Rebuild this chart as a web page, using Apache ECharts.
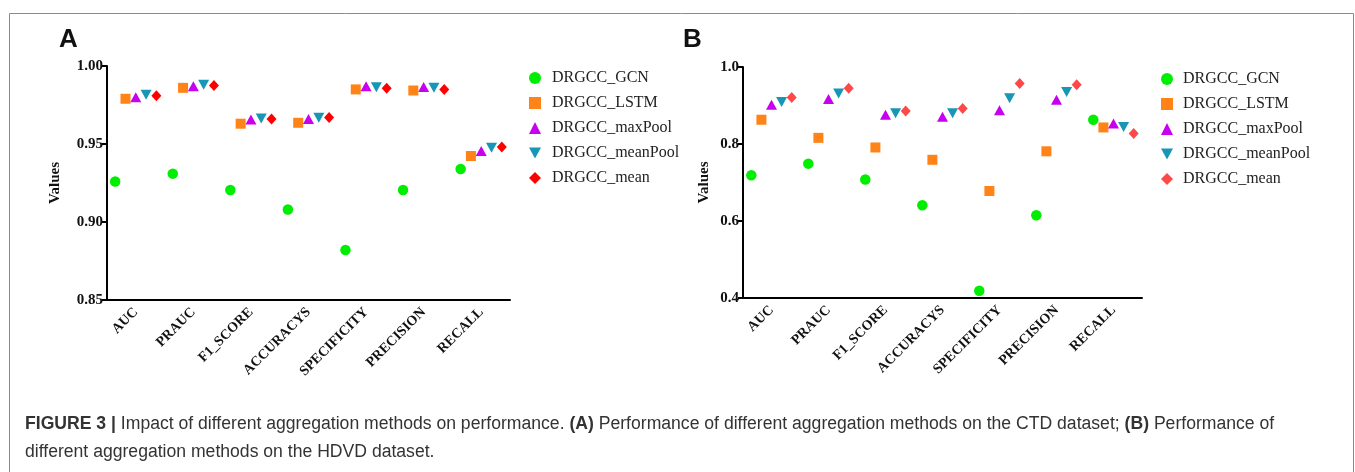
<!DOCTYPE html>
<html>
<head>
<meta charset="utf-8">
<script src="https://cdn.jsdelivr.net/npm/echarts@6/dist/echarts.min.js"></script>
<style>
html,body{margin:0;padding:0;background:#fff;}
#chart{width:1355px;height:472px;}
</style>
</head>
<body>
<div id="chart"></div>
<script>
const categories = ['AUC', 'PRAUC', 'F1_SCORE', 'ACCURACYS', 'SPECIFICITY', 'PRECISION', 'RECALL'];
const methods = ['DRGCC_GCN', 'DRGCC_LSTM', 'DRGCC_maxPool', 'DRGCC_meanPool', 'DRGCC_mean'];

// Panel A: CTD dataset
const ctdGCN      = [0.926, 0.931, 0.9205, 0.908, 0.882, 0.9205, 0.934];
const ctdLSTM     = [0.979, 0.986, 0.963, 0.9636, 0.985, 0.9843, 0.9423];
const ctdMaxPool  = [0.980, 0.987, 0.9657, 0.966, 0.987, 0.9866, 0.9455];
const ctdMeanPool = [0.9815, 0.988, 0.9664, 0.9668, 0.9864, 0.986, 0.9476];
const ctdMean     = [0.981, 0.9875, 0.966, 0.967, 0.9857, 0.985, 0.948];

// Panel B: HDVD dataset
const hdvdGCN      = [0.719, 0.749, 0.708, 0.641, 0.419, 0.615, 0.863];
const hdvdLSTM     = [0.863, 0.816, 0.791, 0.759, 0.678, 0.781, 0.843];
const hdvdMaxPool  = [0.902, 0.917, 0.876, 0.871, 0.8875, 0.915, 0.853];
const hdvdMeanPool = [0.909, 0.931, 0.880, 0.880, 0.919, 0.935, 0.844];
const hdvdMean     = [0.921, 0.945, 0.886, 0.892, 0.957, 0.954, 0.827];

const yTicksA = [0.85, 0.90, 0.95, 1.00];
const yTicksB = [0.4, 0.6, 0.8, 1.0];

const captionBold = 'FIGURE 3 |';
const captionLine1 = ' Impact of different aggregation methods on performance. ';
const captionA = '(A)';
const captionMid = ' Performance of different aggregation methods on the CTD dataset; ';
const captionB = '(B)';
const captionEnd = ' Performance of';
const captionLine2 = 'different aggregation methods on the HDVD dataset.';

const ctdData = [ctdGCN, ctdLSTM, ctdMaxPool, ctdMeanPool, ctdMean];
const hdvdData = [hdvdGCN, hdvdLSTM, hdvdMaxPool, hdvdMeanPool, hdvdMean];

const symbols = ['circle', 'rect', 'triangle', 'path://M0,0 L10,0 L5,9 Z', 'diamond'];
const symbolSizes = [10.5, 10, [11, 10], [11, 10], [10, 11]];
const colorsA = ['#00ee00', '#ff8316', '#c800f0', '#1796b5', '#ff0000'];
const colorsB = ['#00ee00', '#ff8316', '#c800f0', '#1796b5', '#ff4848'];
const serif = '"Liberation Serif","Times New Roman",serif';
const sans = '"Liberation Sans",Arial,sans-serif';

function xAxisCfg(gi) {
  return {
    type: 'category', gridIndex: gi, data: categories, boundaryGap: true,
    axisLine: { lineStyle: { color: '#000', width: 2 } },
    axisTick: { alignWithLabel: true, length: 5, lineStyle: { color: '#000', width: 2 } },
    axisLabel: { rotate: 45, margin: 10, fontFamily: serif, fontWeight: 'bold', fontSize: 14, color: '#111' },
    splitLine: { show: false }
  };
}
function yAxisCfg(gi, ticks, digits, gap) {
  return {
    type: 'value', gridIndex: gi, min: ticks[0], max: ticks[ticks.length - 1],
    interval: +(ticks[1] - ticks[0]).toFixed(4),
    name: 'Values', nameLocation: 'middle', nameGap: gap,
    nameTextStyle: { fontFamily: serif, fontWeight: 'bold', fontSize: 15, color: '#111' },
    axisLine: { show: true, lineStyle: { color: '#000', width: 2 } },
    axisTick: { show: true, length: 5, lineStyle: { color: '#000', width: 2 } },
    axisLabel: { margin: 4, fontFamily: serif, fontWeight: 'bold', fontSize: 15, color: '#111',
      formatter: v => v.toFixed(digits) },
    splitLine: { show: false }
  };
}

const series = [];
function addSeries(data, colors, xi, spacing) {
  data.forEach((arr, k) => {
    series.push({
      type: 'scatter', name: methods[k], xAxisIndex: xi, yAxisIndex: xi,
      data: arr, symbol: symbols[k], symbolSize: symbolSizes[k],
      symbolOffset: [(k - 2) * spacing, 0],
      itemStyle: { color: colors[k], opacity: 1 },
      emphasis: { disabled: true }, z: 3 + k
    });
  });
}
addSeries(ctdData, colorsA, 0, 10.3);
addSeries(hdvdData, colorsB, 1, 10.1);

function legendCfg(left, top, colors, pad) {
  return {
    orient: 'vertical', left: left, top: top, itemWidth: 12, itemHeight: 12, itemGap: 9,
    selectedMode: false,
    textStyle: { fontFamily: serif, fontSize: 16, color: '#222', padding: [0, 0, 0, pad] },
    data: methods.map((m, k) => ({ name: m, icon: symbols[k], itemStyle: { color: colors[k] } }))
  };
}

const option = {
  animation: false,
  backgroundColor: '#fff',
  grid: [
    { left: 107, top: 66, width: 403, height: 234 },
    { left: 743, top: 67, width: 399, height: 231 }
  ],
  xAxis: [xAxisCfg(0), xAxisCfg(1)],
  yAxis: [yAxisCfg(0, yTicksA, 2, 44), yAxisCfg(1, yTicksB, 1, 31)],
  legend: [legendCfg(524, 65, colorsA, 6), legendCfg(1156, 66, colorsB, 5)],
  series: series,
  graphic: [
    { type: 'rect', shape: { x: 9.5, y: 13.5, width: 1344, height: 480 },
      style: { fill: 'none', stroke: '#8a8a8a', lineWidth: 1 }, silent: true },
    { type: 'text', left: 59, top: 27, style: { text: 'A', font: 'bold 26px ' + sans, fill: '#111' } },
    { type: 'text', left: 683, top: 27, style: { text: 'B', font: 'bold 26px ' + sans, fill: '#111' } },
    { type: 'text', left: 25, top: 415, style: {
        text: '{b|' + captionBold + '}{r|' + captionLine1 + '}{b|' + captionA + '}{r|' + captionMid + '}{b|' + captionB + '}{r|' + captionEnd + '}',
        rich: {
          b: { fontFamily: sans, fontWeight: 'bold', fontSize: 17.6, fill: '#333', color: '#333' },
          r: { fontFamily: sans, fontSize: 17.6, fill: '#333', color: '#333' }
        } } },
    { type: 'text', left: 25, top: 443, style: { text: captionLine2, font: '17.6px ' + sans, fill: '#333' } }
  ]
};

const chart = echarts.init(document.getElementById('chart'), null, { renderer: 'canvas' });
chart.setOption(option);
</script>
</body>
</html>
